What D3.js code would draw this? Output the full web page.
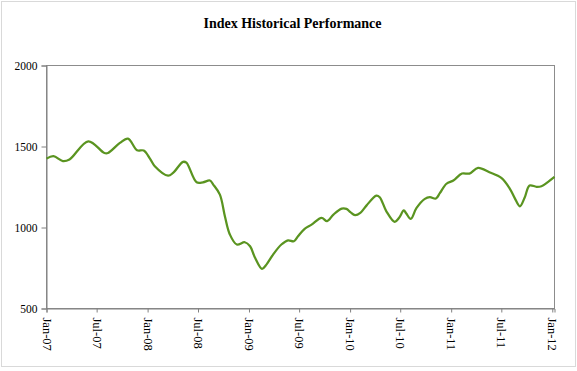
<!DOCTYPE html>
<meta charset="utf-8">
<style>
  body { margin: 0; background: #fff; }
  text { font-family: "Liberation Serif", "Times New Roman", serif; fill: #000; }
</style>
<body>
<div id="chart"></div>
<script src="https://cdn.jsdelivr.net/npm/d3@7"></script>
<script>
  var title = "Index Historical Performance";

  // dates (smoothed line, irregular sampling)
  var dates = [
    "2007-01-01", "2007-01-26", "2007-03-01", "2007-03-25", "2007-06-01", "2007-07-29",
    "2007-08-11", "2007-09-23", "2007-10-22", "2007-11-24", "2007-12-18", "2008-01-10",
    "2008-01-27", "2008-03-15", "2008-04-02", "2008-05-08", "2008-05-20", "2008-06-26",
    "2008-07-19", "2008-08-13", "2008-08-25", "2008-09-18", "2008-10-06", "2008-10-24",
    "2008-11-18", "2008-12-17", "2009-01-05", "2009-01-23", "2009-02-17", "2009-03-05",
    "2009-03-29", "2009-04-28", "2009-05-22", "2009-06-12", "2009-06-27", "2009-07-21",
    "2009-08-15", "2009-09-20", "2009-10-10", "2009-11-02", "2009-12-02", "2009-12-19",
    "2010-01-02", "2010-01-19", "2010-02-07", "2010-03-01", "2010-04-06", "2010-04-18",
    "2010-05-12", "2010-06-11", "2010-06-27", "2010-07-14", "2010-07-23", "2010-08-08",
    "2010-08-29", "2010-09-28", "2010-10-16", "2010-11-07", "2010-11-21", "2010-12-15",
    "2011-01-09", "2011-02-09", "2011-03-08", "2011-04-08", "2011-05-19", "2011-07-01",
    "2011-08-01", "2011-08-18", "2011-09-06", "2011-09-23", "2011-10-11", "2011-11-05",
    "2011-11-23", "2011-12-17", "2012-01-09"
  ];

  var values = [
    1425, 1440, 1410, 1420, 1532, 1460,
    1460, 1522, 1549, 1477, 1475, 1424,
    1378, 1320, 1337, 1405, 1400, 1279,
    1279, 1290, 1265, 1203, 1070, 957,
    895, 909, 884, 813, 745, 771,
    833, 895, 921, 915, 946, 992,
    1018, 1060, 1039, 1080, 1117, 1115,
    1095, 1076, 1090, 1135, 1197, 1187,
    1100, 1035, 1060, 1105, 1086, 1053,
    1121, 1177, 1187, 1179, 1212, 1270,
    1290, 1333, 1333, 1368, 1341, 1306,
    1239, 1183, 1131, 1183, 1259, 1251,
    1255, 1282, 1312
  ];

  var yTicks = [500, 1000, 1500, 2000];
  var xTickLabels = ["Jan-07", "Jul-07", "Jan-08", "Jul-08", "Jan-09", "Jul-09",
                     "Jan-10", "Jul-10", "Jan-11", "Jul-11", "Jan-12"];

  var W = 577, H = 371;
  var margin = { top: 65.5, right: 22.5, bottom: 62.5, left: 46.5 };
  var width = W - margin.left - margin.right;
  var height = H - margin.top - margin.bottom;

  var parse = d3.timeParse("%Y-%m-%d");
  var fmt = d3.timeFormat("%b-%y");
  var data = dates.map(function (d, i) { return { date: parse(d), value: values[i] }; });

  var svg = d3.select("#chart").append("svg")
    .attr("width", W)
    .attr("height", H);

  // outer chart border
  svg.append("rect")
    .attr("x", 1.5).attr("y", 1.5)
    .attr("width", W - 3).attr("height", 365)
    .attr("fill", "#fff")
    .attr("stroke", "#d9d9d9")
    .attr("stroke-width", 1);

  svg.append("text")
    .attr("x", W / 2 + 4)
    .attr("y", 28)
    .attr("text-anchor", "middle")
    .style("font-size", "14px")
    .style("font-weight", "bold")
    .text(title);

  var g = svg.append("g")
    .attr("transform", "translate(" + margin.left + "," + margin.top + ")");

  var x = d3.scaleTime()
    .domain([parse("2007-01-01"), parse("2012-01-09")])
    .range([0, width]);

  var y = d3.scaleLinear()
    .domain([500, 2000])
    .range([height, 0]);

  var xTickDates = xTickLabels.map(function (s) { return d3.timeParse("%b-%y")(s); });

  // plot frame
  g.append("rect")
    .attr("width", width)
    .attr("height", height)
    .attr("fill", "none")
    .attr("stroke", "#8c8c8c")
    .attr("stroke-width", 1);

  var yAxis = d3.axisLeft(y)
    .tickValues(yTicks)
    .tickSize(5)
    .tickPadding(4)
    .tickFormat(d3.format("d"));

  var xAxis = d3.axisBottom(x)
    .tickValues(xTickDates)
    .tickSize(4)
    .tickFormat(fmt);

  var ya = g.append("g").call(yAxis);
  var xa = g.append("g").attr("transform", "translate(0," + height + ")").call(xAxis);

  [ya, xa].forEach(function (a) {
    a.select(".domain").attr("stroke", "#808080");
    a.selectAll(".tick line").attr("stroke", "#808080");
    a.selectAll("text")
      .style("font-family", "'Liberation Serif', 'Times New Roman', serif")
      .style("font-size", "11.5px")
      .attr("fill", "#000");
  });

  xa.selectAll(".tick text")
    .style("font-size", "12.5px")
    .attr("transform", "rotate(90)")
    .attr("text-anchor", "start")
    .attr("x", 9)
    .attr("y", 0)
    .attr("dy", "0.35em");

  var line = d3.line()
    .curve(d3.curveCatmullRom.alpha(0.5))
    .x(function (d) { return x(d.date); })
    .y(function (d) { return y(d.value); });

  g.append("path")
    .datum(data)
    .attr("fill", "none")
    .attr("stroke", "#5a9420")
    .attr("stroke-width", 2.25)
    .attr("stroke-linejoin", "round")
    .attr("d", line);
</script>
</body>
